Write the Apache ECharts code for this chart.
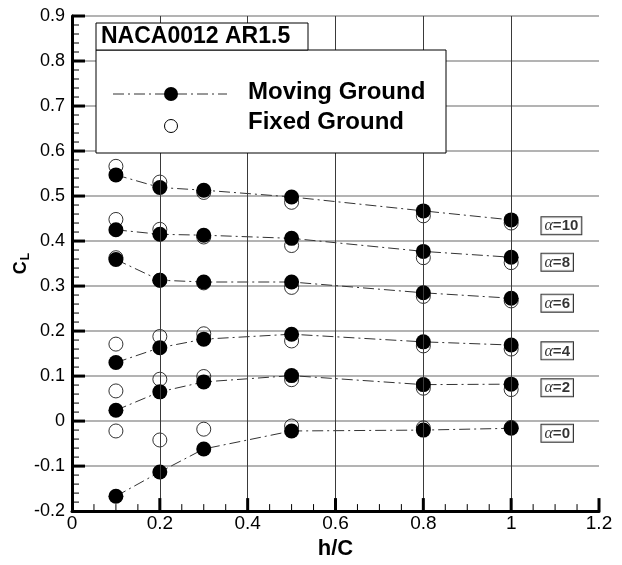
<!DOCTYPE html>
<html>
<head>
<meta charset="utf-8">
<script src="https://cdn.jsdelivr.net/npm/echarts@6/dist/echarts.min.js"></script>
<style>
html,body{margin:0;padding:0;background:#fff;}
#chart{width:622px;height:565px;}
</style>
</head>
<body>
<div id="chart"></div>
<script>
// h/C positions
const hc = [0.1, 0.2, 0.3, 0.5, 0.8, 1.0];
// Moving ground CL
const movingA0  = [-0.167, -0.113, -0.062, -0.022, -0.020, -0.016];
const movingA2  = [0.024, 0.065, 0.087, 0.101, 0.081, 0.082];
const movingA4  = [0.130, 0.163, 0.182, 0.193, 0.176, 0.169];
const movingA6  = [0.359, 0.313, 0.309, 0.309, 0.285, 0.273];
const movingA8  = [0.425, 0.415, 0.413, 0.406, 0.377, 0.364];
const movingA10 = [0.547, 0.519, 0.513, 0.498, 0.467, 0.447];
// Fixed ground CL
const fixedA0  = [-0.022, -0.042, -0.018, -0.011, -0.015, -0.014];
const fixedA2  = [0.067, 0.093, 0.099, 0.092, 0.073, 0.070];
const fixedA4  = [0.171, 0.188, 0.194, 0.178, 0.167, 0.160];
const fixedA6  = [0.363, 0.313, 0.307, 0.297, 0.277, 0.267];
const fixedA8  = [0.448, 0.426, 0.409, 0.390, 0.363, 0.352];
const fixedA10 = [0.566, 0.531, 0.508, 0.486, 0.456, 0.440];
// angle-of-attack labels and their anchor (h/C, CL)
const alphaNames = ['10', '8', '6', '4', '2', '0'];
const alphaLabelX = [1.069, 1.069, 1.069, 1.069, 1.069, 1.069];
const alphaLabelY = [0.434, 0.353, 0.262, 0.156, 0.074, -0.027];
// axis ranges and tick values
const xMin = 0, xMax = 1.2, xStep = 0.2;
const yMin = -0.2, yMax = 0.9, yStep = 0.1;
const xMajorTicks = [0.2, 0.4, 0.6, 0.8, 1.0, 1.2];
const xMinorTicks = [0.05, 0.1, 0.15, 0.25, 0.3, 0.35, 0.45, 0.5, 0.55, 0.65, 0.7, 0.75,
                     0.85, 0.9, 0.95, 1.05, 1.1, 1.15];
const yMajorTicks = [-0.1, 0, 0.1, 0.2, 0.3, 0.4, 0.5, 0.6, 0.7, 0.8, 0.9];
const yMinorTicks = [];
for (let k = -9; k <= 44; k++) { if (k % 5 !== 0) yMinorTicks.push(+(k * 0.02).toFixed(2)); }
const xGridTicks = [0.2, 0.4, 0.6, 0.8, 1.0];
const titleText = 'NACA0012 AR1.5';
const legendNames = ['Moving Ground', 'Fixed Ground'];

const movingSets = [movingA0, movingA2, movingA4, movingA6, movingA8, movingA10];
const fixedSets = [fixedA0, fixedA2, fixedA4, fixedA6, fixedA8, fixedA10];
const pair = arr => hc.map((x, i) => [x, arr[i]]);
const dashDot = [11, 4, 2, 4];
const tickFmt = v => String(Math.round(v * 10) / 10);
const TICK_COLOR = '#000';

function tickSeries(values, isX, len, width) {
  return {
    type: 'custom', z: 6, silent: true, clip: false,
    data: values.map(v => isX ? [v, yMin] : [xMin, v]),
    encode: {x: 0, y: 1},
    renderItem: (params, api) => {
      const p = api.coord([api.value(0), api.value(1)]);
      const shape = isX
        ? {x1: p[0], y1: p[1], x2: p[0], y2: p[1] - len}
        : {x1: p[0], y1: p[1], x2: p[0] + len, y2: p[1]};
      return {type: 'line', shape: shape, style: {stroke: TICK_COLOR, lineWidth: width}};
    }
  };
}

const series = [];
series.push({
  type: 'line', data: [], z: 1, silent: true,
  markLine: {
    silent: true, symbol: ['none', 'none'],
    label: {show: false},
    lineStyle: {type: 'solid', color: '#3a3a3a', width: 1},
    emphasis: {disabled: true},
    data: xGridTicks.map(v => ({xAxis: v}))
  }
});
fixedSets.forEach(s => series.push({
  type: 'scatter', name: legendNames[1], data: pair(s), z: 3,
  symbol: 'circle', symbolSize: 14,
  itemStyle: {color: 'rgba(255,255,255,0)', borderColor: '#000', borderWidth: 1},
  emphasis: {disabled: true}
}));
movingSets.forEach(s => series.push({
  type: 'line', name: legendNames[0], data: pair(s), z: 4,
  symbol: 'circle', symbolSize: 15, showSymbol: true,
  lineStyle: {color: '#333', width: 1, type: dashDot},
  itemStyle: {color: '#000', borderWidth: 0},
  emphasis: {disabled: true}
}));
series.push({
  type: 'scatter', z: 5, silent: true,
  data: alphaNames.map((n, i) => ({value: [alphaLabelX[i], alphaLabelY[i]], name: n})),
  symbolSize: 0,
  label: {
    show: true, position: 'right', distance: 0,
    formatter: p => '{a|α}{b|=' + p.name + '}',
    backgroundColor: '#fff', borderColor: '#000', borderWidth: 1,
    padding: [1, 3, 0, 3],
    rich: {
      a: {fontFamily: 'Liberation Serif', fontSize: 16, fontStyle: 'italic', color: '#000'},
      b: {fontFamily: 'Liberation Sans', fontSize: 15, fontWeight: 'bold', color: '#000'}
    }
  }
});
series.push(tickSeries(xMajorTicks, true, 13, 3));
series.push(tickSeries(xMinorTicks, true, 7, 1));
series.push(tickSeries(yMajorTicks, false, 13, 3));
series.push(tickSeries(yMinorTicks, false, 7, 1));

const chart = echarts.init(document.getElementById('chart'), null, {renderer: 'canvas'});
chart.setOption({
  animation: false,
  backgroundColor: '#fff',
  grid: {left: 72, right: 23, top: 16, bottom: 47, containLabel: false},
  xAxis: {
    type: 'value', min: xMin, max: xMax, interval: xStep,
    name: 'h/C', nameLocation: 'middle', nameGap: 17,
    nameTextStyle: {fontFamily: 'Liberation Sans', fontSize: 22, fontWeight: 'bold', color: '#000'},
    axisLine: {show: true, onZero: false, lineStyle: {color: '#000', width: 3}},
    axisTick: {show: false},
    axisLabel: {margin: 3, fontFamily: 'Liberation Sans', fontSize: 19, color: '#000', formatter: tickFmt},
    splitLine: {show: false}
  },
  yAxis: {
    type: 'value', min: yMin, max: yMax, interval: yStep,
    name: '{c|C}{l|L}', nameLocation: 'middle', nameGap: 40, nameRotate: 90, nameMoveOverlap: false,
    nameTextStyle: {
      rich: {
        c: {fontFamily: 'Liberation Sans', fontSize: 18, fontWeight: 'bold', color: '#000'},
        l: {fontFamily: 'Liberation Sans', fontSize: 12, fontWeight: 'bold', color: '#000', padding: [9, 0, 0, 1]}
      }
    },
    axisLine: {show: true, onZero: false, lineStyle: {color: '#000', width: 3}},
    axisTick: {show: false},
    axisLabel: {margin: 7, fontFamily: 'Liberation Sans', fontSize: 18, color: '#000', formatter: tickFmt},
    splitLine: {show: true, lineStyle: {color: '#9a9a9a', width: 1.6}}
  },
  graphic: [
    {type: 'rect', z: 100, shape: {x: 96, y: 50, width: 350, height: 103},
      style: {fill: '#fff', stroke: '#000', lineWidth: 1}},
    {type: 'rect', z: 101, shape: {x: 96, y: 23, width: 212, height: 27},
      style: {fill: '#fff', stroke: '#000', lineWidth: 1}},
    {type: 'text', z: 102, x: 101, y: 37,
      style: {text: titleText, font: 'bold 23px "Liberation Sans"', fill: '#000', textVerticalAlign: 'middle'}},
    {type: 'line', z: 102, shape: {x1: 113, y1: 94, x2: 227, y2: 94},
      style: {stroke: '#333', lineWidth: 1, lineDash: dashDot}},
    {type: 'circle', z: 103, shape: {cx: 171, cy: 94, r: 7}, style: {fill: '#000'}},
    {type: 'circle', z: 103, shape: {cx: 171, cy: 126, r: 6.5}, style: {fill: '#fff', stroke: '#000', lineWidth: 1}},
    {type: 'text', z: 102, x: 248, y: 92,
      style: {text: legendNames[0], font: 'bold 24px "Liberation Sans"', fill: '#000', textVerticalAlign: 'middle'}},
    {type: 'text', z: 102, x: 248, y: 122,
      style: {text: legendNames[1], font: 'bold 24px "Liberation Sans"', fill: '#000', textVerticalAlign: 'middle'}}
  ],
  series: series
});
</script>
</body>
</html>
